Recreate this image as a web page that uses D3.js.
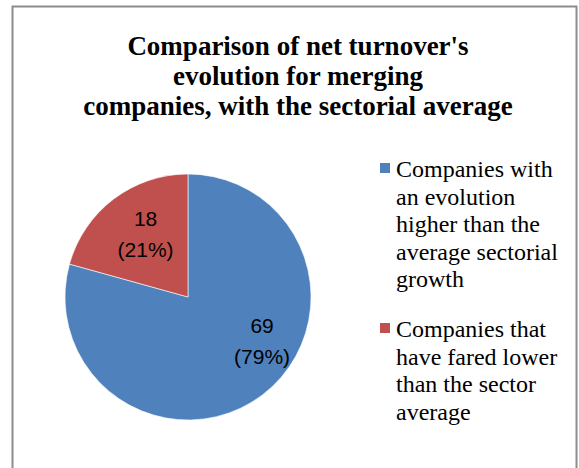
<!DOCTYPE html>
<html><head><meta charset="utf-8">
<script src="https://cdn.jsdelivr.net/npm/d3@7/dist/d3.min.js"></script>
<style>html,body{margin:0;padding:0;background:#fff;}svg{display:block;}</style>
</head><body>
<script>
const categories = [
  "Companies with an evolution higher than the average sectorial growth",
  "Companies that have fared lower than the sector average"
];
const values = [69, 18];
const percentLabels = ["79%", "21%"];
const colors = ["#4F81BD", "#C0504D"];
const titleLines = ["Comparison of net turnover's", "evolution for merging", "companies, with the sectorial average"];
const legendLines = [
  ["Companies with", "an evolution", "higher than the", "average sectorial", "growth"],
  ["Companies that", "have fared lower", "than the sector", "average"]
];

const W = 579, H = 468;
const svg = d3.select("body").append("svg").attr("width", W).attr("height", H);

// frame
svg.append("rect").attr("x", 12.5).attr("y", 6.5).attr("width", 564).attr("height", 480)
  .attr("fill", "#fff").attr("stroke", "#8c8c8c").attr("stroke-width", 2);

// title
svg.append("text").attr("x", 298).attr("y", 55)
  .attr("text-anchor", "middle")
  .attr("font-family", "'Liberation Serif', 'Times New Roman', serif")
  .attr("font-weight", "bold").attr("font-size", 27).attr("fill", "#000")
  .selectAll("tspan").data(titleLines).join("tspan")
  .attr("x", 298).attr("dy", (d, i) => i === 0 ? 0 : 30).text(d => d);

// pie
const cx = 188, cy = 297, R = 123;
const pie = d3.pie().sort(null).value(d => d)(values);
const arc = d3.arc().innerRadius(0).outerRadius(R);
const g = svg.append("g").attr("transform", `translate(${cx},${cy})`);
g.selectAll("path").data(pie).join("path")
  .attr("d", arc).attr("fill", (d, i) => colors[i])
  .attr("stroke", "#fff").attr("stroke-width", 0.6);

// best-fit label placement (angle shift and radius factor per slice)
const labelFit = [{shift: -0.32, r: 0.73}, {shift: 0, r: 0.57}];
const lab = g.selectAll("text.lab").data(pie).join("text").attr("class", "lab")
  .attr("text-anchor", "middle")
  .attr("font-family", "'Liberation Sans', Arial, sans-serif")
  .attr("font-size", 21).attr("fill", "#000")
  .attr("transform", (d, i) => {
    const a = (d.startAngle + d.endAngle) / 2 + labelFit[i].shift;
    const r = R * labelFit[i].r;
    return `translate(${r * Math.sin(a)},${-r * Math.cos(a)})`;
  });
lab.append("tspan").attr("x", 0).attr("dy", -15).text(d => d.value);
lab.append("tspan").attr("x", 0).attr("dy", 31).text((d, i) => `(${percentLabels[i]})`);

// legend
const legY = [173, 333];
const leg = svg.append("g");
legendLines.forEach((lines, i) => {
  leg.append("rect").attr("x", 380).attr("y", legY[i] - 10).attr("width", 10).attr("height", 10)
    .attr("fill", colors[i]);
  leg.append("text").attr("x", 396).attr("y", legY[i] + 4)
    .attr("font-family", "'Liberation Serif', 'Times New Roman', serif")
    .attr("font-size", 24).attr("fill", "#000")
    .selectAll("tspan").data(lines).join("tspan")
    .attr("x", 396).attr("dy", (d, j) => j === 0 ? 0 : 27.6).text(d => d);
});
</script>
</body></html>
